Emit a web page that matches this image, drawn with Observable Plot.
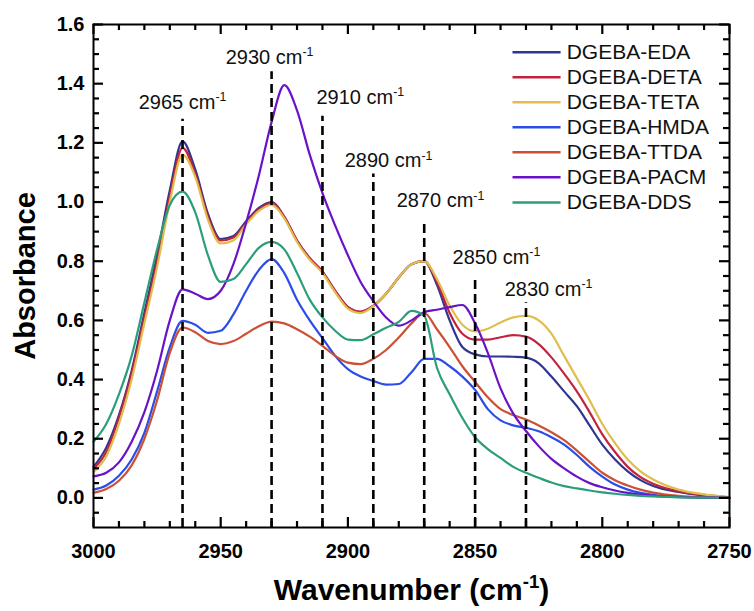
<!DOCTYPE html>
<html><head><meta charset="utf-8">
<script src="https://cdn.jsdelivr.net/npm/d3@7"></script>
<script src="https://cdn.jsdelivr.net/npm/@observablehq/plot@0.6"></script>
<style>html,body{margin:0;padding:0;background:#fff;overflow:hidden} #chart svg{display:block}</style>
</head><body><div id="chart"></div>
<script>
// ---------- data ----------
const wavenumbers = [3000,2995,2990,2985,2980,2975,2970,2965,2960,2955,2950,2945,2940,2935,2930,2925,2920,2915,2910,2905,2900,2895,2890,2885,2880,2875,2870,2865,2860,2855,2850,2845,2840,2835,2830,2825,2820,2815,2810,2805,2800,2795,2790,2785,2780,2770,2760,2750];

const seriesNames = ["DGEBA-EDA","DGEBA-DETA","DGEBA-TETA","DGEBA-HMDA","DGEBA-TTDA","DGEBA-PACM","DGEBA-DDS"];
const seriesColors = ["#2f3590","#c0243e","#dfbe4e","#2b4de6","#cc5035","#6a12c8","#2a9d7c"];

const edaValues  = [0.105,0.17,0.28,0.43,0.625,0.82,1.04,1.205,1.11,0.96,0.875,0.885,0.935,0.98,1.0,0.95,0.87,0.81,0.765,0.70,0.645,0.628,0.648,0.69,0.745,0.79,0.80,0.72,0.60,0.51,0.485,0.478,0.478,0.477,0.474,0.455,0.41,0.36,0.31,0.245,0.18,0.13,0.09,0.06,0.04,0.02,0.008,0.002];
const detaValues = [0.098,0.155,0.27,0.42,0.61,0.80,1.02,1.183,1.095,0.95,0.87,0.88,0.93,0.975,0.997,0.95,0.87,0.81,0.765,0.70,0.645,0.63,0.65,0.69,0.745,0.79,0.80,0.73,0.625,0.555,0.535,0.535,0.543,0.55,0.545,0.52,0.475,0.42,0.36,0.29,0.215,0.155,0.105,0.07,0.048,0.022,0.01,0.002];
const tetaValues = [0.088,0.14,0.25,0.40,0.59,0.78,1.0,1.16,1.085,0.94,0.86,0.87,0.925,0.97,0.99,0.945,0.865,0.805,0.76,0.695,0.64,0.625,0.648,0.69,0.745,0.79,0.80,0.74,0.65,0.585,0.563,0.572,0.593,0.61,0.615,0.60,0.555,0.48,0.405,0.33,0.25,0.185,0.13,0.09,0.062,0.028,0.012,0.003];
const hmdaValues = [0.028,0.042,0.075,0.13,0.22,0.36,0.51,0.598,0.585,0.558,0.565,0.62,0.70,0.77,0.807,0.76,0.67,0.60,0.54,0.48,0.435,0.41,0.395,0.383,0.385,0.425,0.47,0.47,0.445,0.41,0.365,0.30,0.262,0.245,0.237,0.225,0.205,0.18,0.145,0.105,0.072,0.045,0.028,0.017,0.01,0.004,0.001,0.0];
const ttdaValues = [0.017,0.03,0.058,0.11,0.20,0.33,0.49,0.576,0.56,0.53,0.52,0.53,0.555,0.58,0.596,0.59,0.57,0.545,0.514,0.48,0.457,0.452,0.47,0.50,0.542,0.59,0.625,0.57,0.51,0.445,0.392,0.34,0.30,0.28,0.265,0.245,0.222,0.195,0.16,0.122,0.085,0.06,0.042,0.028,0.018,0.007,0.002,0.0];
const pacmValues = [0.073,0.085,0.12,0.19,0.29,0.43,0.60,0.705,0.69,0.672,0.70,0.79,0.93,1.09,1.27,1.395,1.31,1.16,1.03,0.92,0.82,0.73,0.665,0.61,0.582,0.60,0.628,0.636,0.645,0.652,0.59,0.49,0.37,0.285,0.226,0.175,0.132,0.10,0.072,0.05,0.036,0.025,0.017,0.011,0.007,0.003,0.001,0.0];
const ddsValues  = [0.19,0.25,0.35,0.48,0.66,0.84,0.99,1.035,0.965,0.82,0.73,0.74,0.79,0.845,0.865,0.84,0.76,0.67,0.61,0.565,0.535,0.533,0.553,0.575,0.595,0.632,0.615,0.44,0.35,0.27,0.205,0.165,0.135,0.105,0.085,0.068,0.052,0.04,0.032,0.025,0.019,0.014,0.01,0.007,0.005,0.002,0.001,0.0];

const seriesValues = [edaValues, detaValues, tetaValues, hmdaValues, ttdaValues, pacmValues, ddsValues];

// peak marker lines and their labels
const peakWavenumbers = [2965, 2930, 2910, 2890, 2870, 2850, 2830];
const peakLineTops    = [1.28, 1.44, 1.29, 1.095, 0.93, 0.735, 0.66];
const peakLabelCenters = [2965, 2930.8, 2895.1, 2884.0, 2863.6, 2841.6, 2821.1];
const peakLabelHeights = [1.315, 1.468, 1.332, 1.117, 0.982, 0.79, 0.683];

// axis ticks
const xMajorTicks = [3000, 2950, 2900, 2850, 2800, 2750];
const xMinorTicks = [2990,2980,2970,2960,2940,2930,2920,2910,2890,2880,2870,2860,2840,2830,2820,2810,2790,2780,2770,2760];
const yMajorTicks = [0.0, 0.2, 0.4, 0.6, 0.8, 1.0, 1.2, 1.4, 1.6];
const yMinorTicks = [-0.05,0.05,0.1,0.15,0.25,0.3,0.35,0.45,0.5,0.55,0.65,0.7,0.75,0.85,0.9,0.95,1.05,1.1,1.15,1.25,1.3,1.35,1.45,1.5,1.55];

const xDomain = [3000, 2750];
const yDomain = [-0.1, 1.6];

// ---------- derived tables ----------
const curves = seriesNames.flatMap((name, s) =>
  wavenumbers.map((wn, i) => ({series: name, wn, absorbance: seriesValues[s][i]})));
const peaks = peakWavenumbers.map((wn, i) => ({
  wn, top: peakLineTops[i], labelX: peakLabelCenters[i], labelY: peakLabelHeights[i], label: `${wn} cm-1`
}));

// legend layout (in data units, placed through the scales)
const legendLineStart = 2835.3, legendLineEnd = 2816.4, legendTextX = 2814.0;
const legendFirstRow = 1.5064, legendRowStep = 0.0846;
const legend = seriesNames.map((name, i) => ({name, y: legendFirstRow - i * legendRowStep}));

// ---------- layout ----------
const W = 754, H = 611, mL = 93, mR = 25, mT = 24, mB = 84;
const frameW = W - mL - mR, frameH = H - mT - mB;
const pxPerX = frameW / Math.abs(xDomain[1] - xDomain[0]);   // pixels per cm-1
const pxPerY = frameH / (yDomain[1] - yDomain[0]);           // pixels per absorbance unit
const majorLen = 10, minorLen = 6, tickWidth = 2.2;
const font = "Liberation Sans, Arial, Helvetica, sans-serif";

// inward ticks on the four sides of the frame (lengths converted to data units)
const tickMarks = [[xMajorTicks, majorLen], [xMinorTicks, minorLen]].flatMap(([ticks, len]) => [
  Plot.ruleX(ticks, {x: d => d, y1: () => yDomain[0], y2: () => yDomain[0] + len / pxPerY, stroke: "#000", strokeWidth: tickWidth}),
  Plot.ruleX(ticks, {x: d => d, y1: () => yDomain[1] - len / pxPerY, y2: () => yDomain[1], stroke: "#000", strokeWidth: tickWidth})
]).concat([[yMajorTicks, majorLen], [yMinorTicks, minorLen]].flatMap(([ticks, len]) => [
  Plot.ruleY(ticks, {y: d => d, x1: () => xDomain[0], x2: () => xDomain[0] - len / pxPerX, stroke: "#000", strokeWidth: tickWidth}),
  Plot.ruleY(ticks, {y: d => d, x1: () => xDomain[1] + len / pxPerX, x2: () => xDomain[1], stroke: "#000", strokeWidth: tickWidth})
]));

const chart = Plot.plot({
  width: W,
  height: H,
  marginLeft: mL,
  marginRight: mR,
  marginTop: mT,
  marginBottom: mB,
  style: {fontFamily: font, background: "#fff", color: "#000"},
  x: {domain: xDomain},
  y: {domain: yDomain},
  color: {domain: seriesNames, range: seriesColors},
  marks: [
    // curves
    Plot.line(curves, {x: "wn", y: "absorbance", z: "series", stroke: "series", strokeWidth: 2.2, curve: "monotone-x"}),
    // dashed peak markers
    Plot.ruleX(peaks, {x: "wn", y1: () => yDomain[0], y2: "top", stroke: "#000", strokeWidth: 2.6, strokeDasharray: "9,5"}),
    Plot.text(peaks, {x: "labelX", y: "labelY", text: "label", fontSize: 20, textAnchor: "middle", lineAnchor: "bottom", fill: "#111"}),
    // legend
    Plot.link(legend, {x1: () => legendLineStart, x2: () => legendLineEnd, y1: "y", y2: "y", stroke: "name", strokeWidth: 2.5}),
    Plot.text(legend, {x: () => legendTextX, y: "y", text: "name", fontSize: 21, textAnchor: "start", lineAnchor: "middle", fill: "#111"}),
    ...tickMarks,
    // tick labels
    Plot.axisX({anchor: "bottom", ticks: xMajorTicks, tickSize: 0, tickPadding: 16, tickFormat: d3.format("d"), label: null, fontSize: 20, fontWeight: "bold"}),
    Plot.axisY({anchor: "left", ticks: yMajorTicks, tickSize: 0, tickPadding: 9, tickFormat: d3.format(".1f"), label: null, fontSize: 20, fontWeight: "bold"}),
    // axis titles
    Plot.text(["Wavenumber (cm-1)"], {frameAnchor: "bottom", dy: 72, textAnchor: "middle", lineAnchor: "bottom", fontSize: 30, fontWeight: "bold", fill: "#000"}),
    Plot.text(["Absorbance"], {frameAnchor: "left", dx: -59, rotate: -90, textAnchor: "middle", lineAnchor: "bottom", fontSize: 29, fontWeight: "bold", fill: "#000"}),
    Plot.frame({stroke: "#000", strokeWidth: 2})
  ]
});

document.getElementById("chart").appendChild(chart);

// superscript "-1" in "cm-1"
const NS = "http://www.w3.org/2000/svg";
chart.querySelectorAll("text").forEach(t => {
  const s = t.textContent;
  const i = s.indexOf("cm-1");
  if (i < 0) return;
  const head = s.slice(0, i + 2), tail = s.slice(i + 4);
  t.textContent = head;
  const sup = document.createElementNS(NS, "tspan");
  sup.setAttribute("font-size", "62%");
  sup.setAttribute("dy", "-0.62em");
  sup.textContent = "-1";
  t.appendChild(sup);
  if (tail) {
    const rest = document.createElementNS(NS, "tspan");
    rest.setAttribute("dy", "0.385em");
    rest.textContent = tail;
    t.appendChild(rest);
  }
});
</script>
</body></html>
